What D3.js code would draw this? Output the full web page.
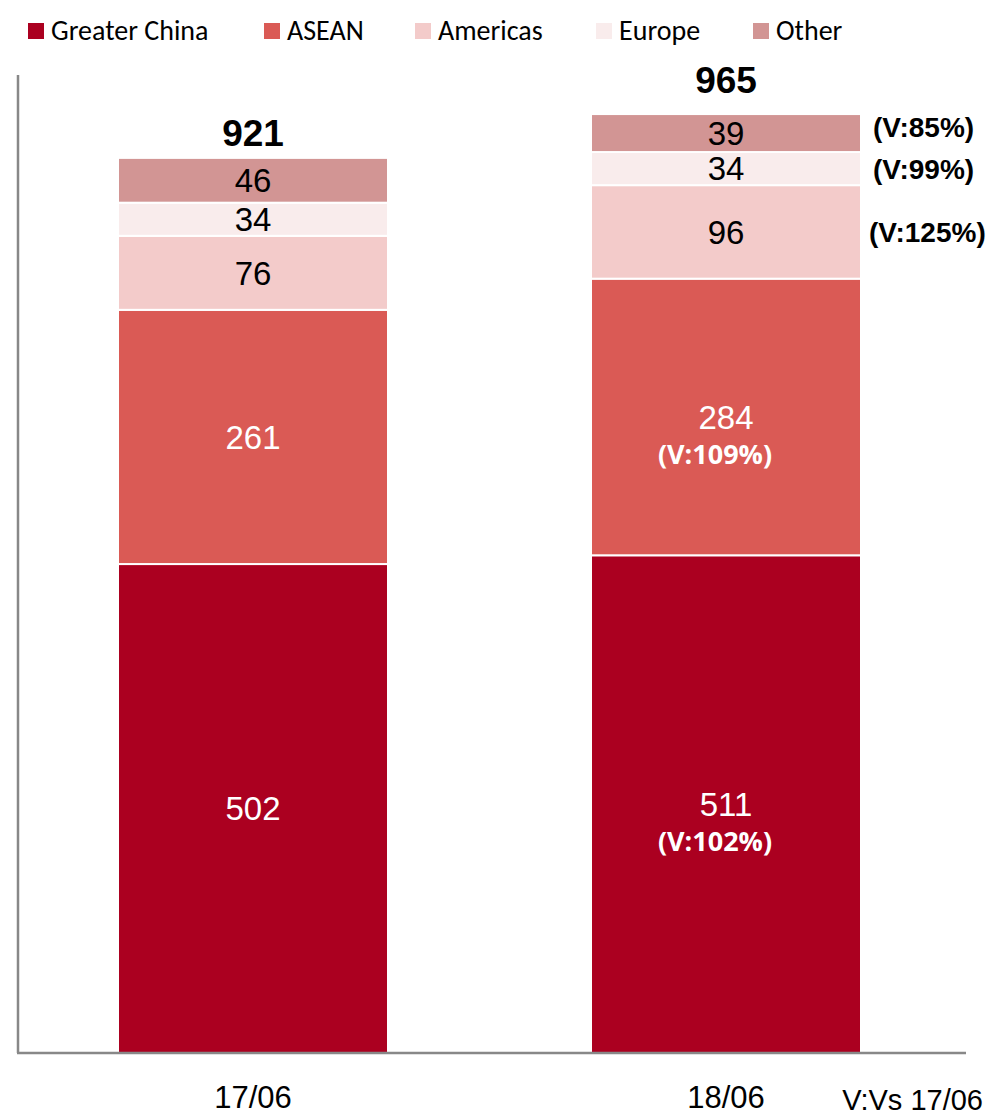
<!DOCTYPE html>
<html>
<head>
<meta charset="utf-8">
<script src="https://cdn.jsdelivr.net/npm/d3@7"></script>
<style>
  body { margin: 0; background: #fff; }
  svg { display: block; }
</style>
</head>
<body>
<svg id="chart" width="993" height="1119"></svg>
<script>
// Data
var periods = ['17/06', '18/06']
var regions = ['Greater China', 'ASEAN', 'Americas', 'Europe', 'Other']
var colors = ['#ab0020', '#da5a55', '#f3cbca', '#f9ecec', '#d29594']
var greaterChina = [502, 511]
var asean = [261, 284]
var americas = [76, 96]
var europe = [34, 34]
var other = [46, 39]
var totals = [921, 965]
// variance labels (18/06 vs 17/06)
var varInside = ['(V:102%)', '(V:109%)', null, null, null]
var varOutside = [null, null, '(V:125%)', '(V:99%)', '(V:85%)']
var legendX = [28, 264, 415, 596, 753]

var series = [greaterChina, asean, americas, europe, other]
var rows = periods.map(function (p, i) {
  var r = { period: p }
  regions.forEach(function (k, j) { r[k] = series[j][i] })
  return r
})

var svg = d3.select('#chart')

var x = d3.scaleBand()
  .domain(periods)
  .range([23.4, 955.6])
  .paddingInner(0.4292)
  .paddingOuter(0.2)

var y = d3.scaleLinear()
  .domain([0, 1000])
  .range([1053, 79])

var stack = d3.stack().keys(regions)(rows)

// bars
var layers = svg.append('g')
  .selectAll('g')
  .data(stack)
  .enter()
  .append('g')
  .attr('fill', function (d, i) { return colors[i] })

layers.selectAll('rect')
  .data(function (d) { return d })
  .enter()
  .append('rect')
  .attr('x', function (d) { return x(d.data.period) })
  .attr('width', x.bandwidth())
  .attr('y', function (d) { return y(d[1]) })
  .attr('height', function (d) { return y(d[0]) - y(d[1]) })
  .attr('stroke', '#fff')
  .attr('stroke-width', 2)

// segment values
stack.forEach(function (layer, j) {
  layer.forEach(function (d, i) {
    var cx = x(d.data.period) + x.bandwidth() / 2
    var cy = (y(d[0]) + y(d[1])) / 2
    var dark = j < 2
    svg.append('text')
      .attr('x', cx)
      .attr('y', cy)
      .attr('dy', '0.36em')
      .attr('text-anchor', 'middle')
      .attr('font-family', 'Liberation Sans, Arial, sans-serif')
      .attr('font-size', 33)
      .attr('fill', dark ? '#fff' : '#000')
      .text(series[j][i])
    if (i === 1 && varInside[j]) {
      svg.append('text')
        .attr('x', cx - 11)
        .attr('y', cy + 37)
        .attr('dy', '0.36em')
        .attr('text-anchor', 'middle')
        .attr('font-family', 'Open Sans, sans-serif')
        .attr('font-weight', 'bold')
        .attr('font-size', 27)
        .attr('fill', '#fff')
        .text(varInside[j])
    }
    if (i === 1 && varOutside[j]) {
      svg.append('text')
        .attr('x', x(d.data.period) + x.bandwidth() + (j === 2 ? 8 : 12))
        .attr('y', cy - (j === 4 ? 6 : 0))
        .attr('dy', '0.36em')
        .attr('font-family', 'Liberation Sans, Arial, sans-serif')
        .attr('font-weight', 'bold')
        .attr('font-size', 28)
        .attr('fill', '#000')
        .text(varOutside[j])
    }
  })
})

// totals
var totalGap = [10, 20]
svg.append('g')
  .selectAll('text')
  .data(periods)
  .enter()
  .append('text')
  .attr('x', function (d) { return x(d) + x.bandwidth() / 2 })
  .attr('y', function (d, i) { return y(totals[i]) - totalGap[i] })
  .attr('text-anchor', 'middle')
  .attr('font-family', 'Liberation Sans, Arial, sans-serif')
  .attr('font-weight', 'bold')
  .attr('font-size', 37)
  .text(function (d, i) { return totals[i] })

// axes lines
svg.append('line')
  .attr('x1', 18).attr('x2', 18)
  .attr('y1', 75).attr('y2', y(0))
  .attr('stroke', '#888').attr('stroke-width', 2.5)
svg.append('line')
  .attr('x1', 17).attr('x2', 966)
  .attr('y1', y(0)).attr('y2', y(0))
  .attr('stroke', '#888').attr('stroke-width', 2.5)

// x labels
var xAxis = d3.axisBottom(x).tickSize(0).tickPadding(33)
var gx = svg.append('g')
  .attr('transform', 'translate(0,' + y(0) + ')')
  .call(xAxis)
gx.select('.domain').remove()
gx.selectAll('text')
  .attr('font-family', 'Liberation Sans Narrow, Arial Narrow, sans-serif')
  .attr('font-size', 31)
  .attr('fill', '#000')

svg.append('text')
  .attr('x', 983)
  .attr('y', 1110)
  .attr('text-anchor', 'end')
  .attr('font-family', 'Liberation Sans Narrow, Arial Narrow, sans-serif')
  .attr('font-size', 29)
  .text('V:Vs 17/06')

// legend
var legend = svg.append('g')
regions.forEach(function (r, i) {
  legend.append('rect')
    .attr('x', legendX[i]).attr('y', 23)
    .attr('width', 16).attr('height', 16)
    .attr('fill', colors[i])
  legend.append('text')
    .attr('x', legendX[i] + 23).attr('y', 30)
    .attr('dy', '0.36em')
    .attr('font-family', 'Carlito, Open Sans, sans-serif')
    .attr('font-size', 28)
    .text(r)
})
</script>
</body>
</html>
